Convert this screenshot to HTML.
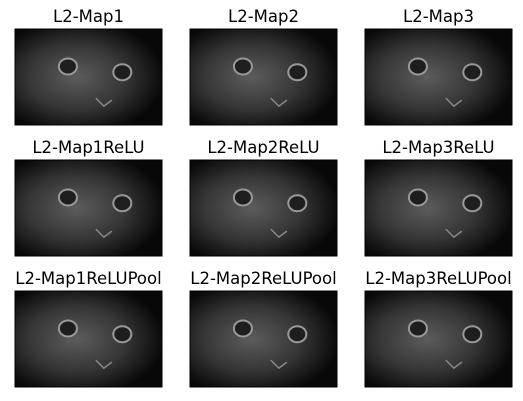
<!DOCTYPE html>
<html><head><meta charset="utf-8"><style>
body{margin:0;background:#fff;}
svg{display:block;font-family:"DejaVu Sans","Liberation Sans",sans-serif;}
</style></head><body>
<svg id="fig" width="523" height="401" viewBox="0 0 523 401">
<defs>
<radialGradient id="g" cx="0.42" cy="0.5" r="0.6">
<stop offset="0" stop-color="#5c5c5c"/>
<stop offset="0.55" stop-color="#363636"/>
<stop offset="1" stop-color="#080808"/>
</radialGradient>
</defs>
</svg>
<script>
const titles=["L2-Map1","L2-Map2","L2-Map3","L2-Map1ReLU","L2-Map2ReLU","L2-Map3ReLU","L2-Map1ReLUPool","L2-Map2ReLUPool","L2-Map3ReLUPool"];
const colX=[15,190,365], rowY=[29,160,291], W=147, H=96;
const svg=document.getElementById('fig');
const NS='http://www.w3.org/2000/svg';
function mk(t,a){const e=document.createElementNS(NS,t);for(const k in a)e.setAttribute(k,a[k]);return e;}
titles.forEach((t,i)=>{
  const x=colX[i%3], y=rowY[Math.floor(i/3)];
  const g=mk('g',{});
  
  
  const r=mk('rect',{x:x,y:y,width:W,height:H,fill:'url(#g)',stroke:'#000','stroke-width':1});
  
  
  g.appendChild(r);
  [[0.36,0.39],[0.73,0.45]].forEach(p=>{
    const c=mk('ellipse',{cx:x+p[0]*W,cy:y+p[1]*H,rx:9,ry:8,fill:'#1e1e1e',stroke:'#999','stroke-width':2});
    
    
    g.appendChild(c);
  });
  const n=mk('path',{d:`M${x+0.55*W} ${y+0.72*H} l8 8 l8 -6`,fill:'none',stroke:'#888','stroke-width':1.5});
  
  
  g.appendChild(n);
  const tx=mk('text',{x:x+W/2,y:y-7,'text-anchor':'middle','font-size':16.5,fill:'#000'});
  tx.textContent=t;
  
  
  g.appendChild(tx);
  svg.appendChild(g);
});
</script>
</body></html>
